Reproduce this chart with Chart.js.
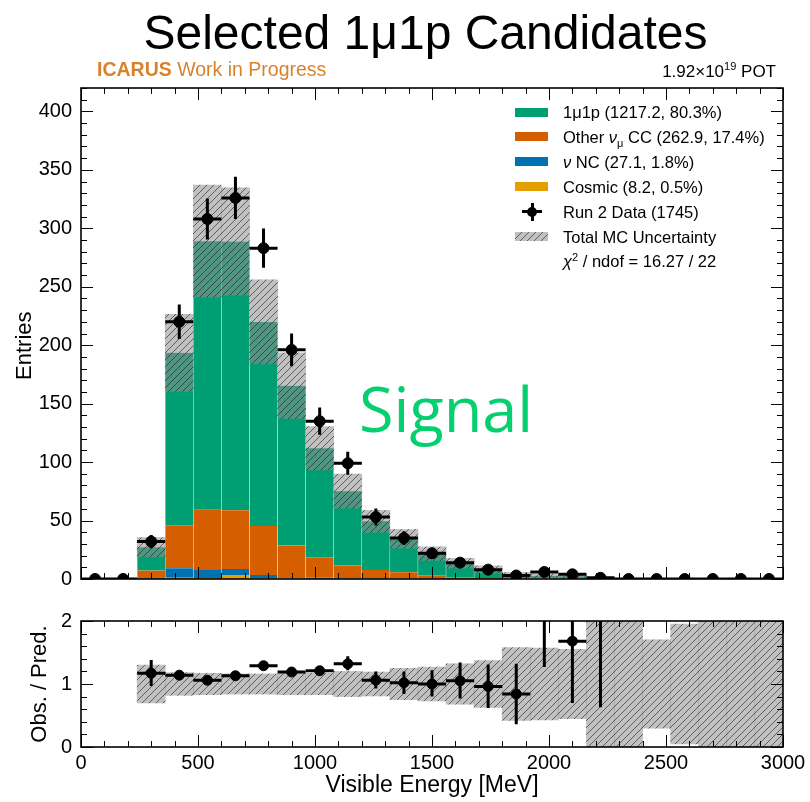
<!DOCTYPE html>
<html>
<head>
<meta charset="utf-8">
<script src="https://cdn.jsdelivr.net/npm/chart.js@4.4.0/dist/chart.umd.min.js"></script>
<style>
  body { margin: 0; background: #fff; width: 810px; height: 802px; position: relative; overflow: hidden;
         font-family: "Liberation Sans", Arial, sans-serif; color: #000; }
  .abs { position: absolute; white-space: nowrap; line-height: 1; }
  #mainChart { position: absolute; left: 0; top: 0; }
  #ratioChart { position: absolute; left: 0; top: 600px; }
  .sw { position: absolute; width: 33px; height: 9px; }
  .lt { position: absolute; left: 563px; font-size: 16.5px; line-height: 20px; white-space: nowrap; }
  sub, sup { line-height: 0; }
</style>
</head>
<body>
<canvas id="mainChart" width="810" height="600"></canvas>
<canvas id="ratioChart" width="810" height="202"></canvas>

<div class="abs" style="left:0;width:851px;text-align:center;top:9px;font-size:48px;">Selected 1μ1p Candidates</div>
<div class="abs" style="left:97px;top:60px;font-size:19.5px;color:#d9822b;"><b>ICARUS</b> Work in Progress</div>
<div class="abs" style="right:34px;top:63px;font-size:17px;">1.92×10<sup style="font-size:11px">19</sup> POT</div>
<div class="abs" style="left:359px;top:376px;font-size:63px;font-family:'Open Sans',sans-serif;color:#05cf6e;">Signal</div>
<div id="legend"></div>

<script>
// bin centres (MeV), bins are 120 MeV wide from 0 to 3000
var binCenters = [60, 180, 300, 420, 540, 660, 780, 900, 1020, 1140, 1260, 1380, 1500,
                  1620, 1740, 1860, 1980, 2100, 2220, 2340, 2460, 2580, 2700, 2820, 2940];
var binHalf = 60;

// stacked MC predictions
var sig1mu1p = [0, 0, 20.0, 147.6, 229.7, 229.9, 174.6, 136.7, 93.2, 63.6, 41.6, 28.7, 18.4,
                11.9, 7.2, 3.2, 2.4, 2.1, 0.5, 0.3, 0.3, 0.2, 0.2, 0.1, 0.1];
var otherNumuCC = [0, 0, 5.8, 36.7, 51.6, 50.2, 41.9, 27.3, 17.6, 10.9, 7.3, 5.3, 3.0,
                   1.5, 0.8, 0.4, 0.3, 0.2, 0.1, 0, 0, 0, 0, 0, 0];
var nuNC = [0, 0, 1.1, 8.2, 6.9, 5.7, 2.9, 1.0, 0.7, 0.4, 0.3, 0.2, 0.2,
            0.1, 0.1, 0, 0.1, 0.1, 0, 0, 0, 0, 0, 0, 0];
var cosmic = [0, 0, 0.3, 1.0, 0.8, 2.9, 0.5, 0.4, 0.3, 0.2, 0.1, 0.2, 0.1,
              0, 0, 0, 0, 0, 0, 0, 0, 0, 0, 0, 0];
// total MC uncertainty (half width)
var mcErr = [0, 0, 8.3, 33, 48, 46, 36, 28, 18.6, 14.6, 9.4, 8, 5.8,
             4.2, 3.2, 2.1, 1.6, 1.3, 0.8, 0.5, 0.2, 0.2, 0.3, 0.2, 0.2];

// Run 2 data
var dataCounts = [0, 0, 32, 220, 308, 326, 283, 196, 135, 99, 53, 35, 22,
                  14, 8, 3, 6, 4, 1, 0, 0, 0, 0, 0, 0];
var dataErr = [0, 0, 5.7, 14.8, 17.5, 18.1, 16.8, 14, 11.6, 9.9, 7.3, 5.9, 4.7,
               3.7, 2.8, 1.7, 2.4, 2.0, 1.0, 0, 0, 0, 0, 0, 0];

// ratio panel
var ratioVal = [null, null, 1.17, 1.14, 1.06, 1.13, 1.29, 1.19, 1.21, 1.32, 1.06, 1.02, 1.00,
                1.05, 0.96, 0.84, 2.14, 1.68, 3.5, null, null, null, null, null, null];
var ratioLo = [null, null, 0.97, 1.09, 1.02, 1.09, 1.24, 1.14, 1.15, 1.22, 0.93, 0.84, 0.80,
               0.77, 0.62, 0.36, 1.27, 0.70, 0.63, null, null, null, null, null, null];
var ratioHi = [null, null, 1.38, 1.19, 1.10, 1.17, 1.34, 1.25, 1.27, 1.44, 1.20, 1.20, 1.22,
               1.34, 1.31, 1.32, 3.0, 2.7, 5.5, null, null, null, null, null, null];
var ratioBand = [null, null, 0.30, 0.18, 0.17, 0.16, 0.16, 0.17, 0.17, 0.20, 0.19, 0.25, 0.27,
                 0.32, 0.37, 0.58, 0.57, 0.55, 1.2, 1.2, 0.70, 0.95, 1.2, 1.2, 1.2];

var legendItems = [
  { kind: 'box', color: '#009e73', html: '1μ1p (1217.2, 80.3%)' },
  { kind: 'box', color: '#d55e00', html: 'Other <i>ν</i><sub style="font-size:11px">μ</sub> CC (262.9, 17.4%)' },
  { kind: 'box', color: '#0072b2', html: '<i>ν</i> NC (27.1, 1.8%)' },
  { kind: 'box', color: '#e69f00', html: 'Cosmic (8.2, 0.5%)' },
  { kind: 'data', html: 'Run 2 Data (1745)' },
  { kind: 'hatch', html: 'Total MC Uncertainty' },
  { kind: 'none', html: '<i>χ</i><sup style="font-size:11px">2</sup> / ndof = 16.27 / 22' }
];

Chart.defaults.font.family = '"Liberation Sans", Arial, sans-serif';
Chart.defaults.color = '#000';

function makeHatch(bg, line, size) {
  var c = document.createElement('canvas');
  c.width = c.height = size;
  var g = c.getContext('2d');
  g.fillStyle = bg;
  g.fillRect(0, 0, size, size);
  g.strokeStyle = line;
  g.lineWidth = 1;
  g.beginPath();
  g.moveTo(0, size); g.lineTo(size, 0);
  g.moveTo(-1, 1); g.lineTo(1, -1);
  g.moveTo(size - 1, size + 1); g.lineTo(size + 1, size - 1);
  g.stroke();
  return c;
}

// ROOT style frame with inward ticks on all four sides
var rootFrame = {
  id: 'rootFrame',
  afterDraw: function(chart, args, o) {
    var ctx = chart.ctx, a = chart.chartArea;
    var xs = chart.scales.x, ys = chart.scales.y;
    ctx.save();
    ctx.strokeStyle = '#000';
    ctx.lineWidth = 1;
    ctx.beginPath();
    for (var v = xs.min; v <= xs.max + 1e-9; v += o.xMinor) {
      var px = Math.round(xs.getPixelForValue(v)) + 0.5;
      var len = Math.abs(v / o.xMajor - Math.round(v / o.xMajor)) < 1e-6 ? 12 : 6;
      ctx.moveTo(px, a.bottom); ctx.lineTo(px, a.bottom - len);
      ctx.moveTo(px, a.top); ctx.lineTo(px, a.top + len);
    }
    for (var w = ys.min; w <= ys.max + 1e-9; w += o.yMinor) {
      var py = Math.round(ys.getPixelForValue(w)) + 0.5;
      var l2 = Math.abs(w / o.yMajor - Math.round(w / o.yMajor)) < 1e-6 ? 12 : 6;
      ctx.moveTo(a.left, py); ctx.lineTo(a.left + l2, py);
      ctx.moveTo(a.right, py); ctx.lineTo(a.right - l2, py);
    }
    ctx.stroke();
    ctx.lineWidth = 1.6;
    ctx.strokeRect(a.left, a.top, a.right - a.left, a.bottom - a.top);
    ctx.restore();
  }
};

// data error bars (horizontal = bin width, vertical = stat error)
var errorBars = {
  id: 'errorBars',
  afterDatasetsDraw: function(chart) {
    var ctx = chart.ctx, a = chart.chartArea;
    chart.data.datasets.forEach(function(ds) {
      if (!ds.errLo) return;
      var xs = chart.scales.x, ys = chart.scales[ds.yAxisID || 'y'];
      ctx.save();
      ctx.beginPath();
      ctx.rect(a.left, a.top, a.right - a.left, a.bottom - a.top);
      ctx.clip();
      ctx.strokeStyle = '#000';
      ctx.lineWidth = 3;
      ds.data.forEach(function(p, i) {
        if (p.y === null) return;
        var x = xs.getPixelForValue(p.x), y = ys.getPixelForValue(p.y);
        ctx.beginPath();
        ctx.moveTo(xs.getPixelForValue(p.x - binHalf), y);
        ctx.lineTo(xs.getPixelForValue(p.x + binHalf), y);
        if (ds.errHi[i] > ds.errLo[i]) {
          ctx.moveTo(x, ys.getPixelForValue(ds.errLo[i]));
          ctx.lineTo(x, ys.getPixelForValue(ds.errHi[i]));
        }
        ctx.stroke();
      });
      ctx.restore();
    });
  }
};

var mainCtx = document.getElementById('mainChart').getContext('2d');
var hatchMain = mainCtx.createPattern(makeHatch('rgba(143,143,143,0.56)', 'rgba(30,30,30,0.6)', 7), 'repeat');

function pts(vals) {
  return binCenters.map(function(x, i) { return { x: x, y: vals[i] }; });
}

var mcTotal = binCenters.map(function(x, i) {
  return sig1mu1p[i] + otherNumuCC[i] + nuNC[i] + cosmic[i];
});

var barCommon = {
  type: 'bar', grouped: false, barPercentage: 1, categoryPercentage: 1,
  borderWidth: { left: 0.5, right: 0.5, top: 0, bottom: 0 },
  borderColor: 'rgba(255,255,255,0.45)'
};

function plainNum(v) { return String(v); }

new Chart(mainCtx, {
  type: 'bar',
  data: {
    datasets: [
      { type: 'scatter', label: 'Run 2 Data', data: pts(dataCounts), yAxisID: 'yb',
        pointRadius: 5.5, pointBackgroundColor: '#000', pointBorderColor: '#000', clip: 0,
        errLo: dataCounts.map(function(v, i) { return v - dataErr[i]; }),
        errHi: dataCounts.map(function(v, i) { return v + dataErr[i]; }) },
      Object.assign({}, barCommon, { label: 'Total MC Uncertainty', yAxisID: 'yb',
        data: binCenters.map(function(x, i) { return { x: x, y: [mcTotal[i] - mcErr[i], mcTotal[i] + mcErr[i]] }; }),
        backgroundColor: hatchMain, borderWidth: 0 }),
      Object.assign({}, barCommon, { label: 'Cosmic', data: pts(cosmic), backgroundColor: '#e69f00' }),
      Object.assign({}, barCommon, { label: 'nu NC', data: pts(nuNC), backgroundColor: '#0072b2' }),
      Object.assign({}, barCommon, { label: 'Other numu CC', data: pts(otherNumuCC), backgroundColor: '#d55e00' }),
      Object.assign({}, barCommon, { label: '1mu1p', data: pts(sig1mu1p), backgroundColor: '#009e73' })
    ]
  },
  options: {
    responsive: false,
    animation: false,
    layout: { padding: { left: 0, right: 27, top: 88, bottom: 7 } },
    plugins: {
      legend: { display: false },
      tooltip: { enabled: false },
      rootFrame: { xMinor: 100, xMajor: 500, yMinor: 10, yMajor: 50 }
    },
    scales: {
      x: { type: 'linear', min: 0, max: 3000, offset: false, display: false },
      y: {
        stacked: true, min: 0, max: 420,
        afterFit: function(s) { s.width = 81; },
        grid: { display: false, drawTicks: false },
        border: { display: false },
        ticks: { stepSize: 50, includeBounds: false, padding: 9, font: { size: 20 }, callback: plainNum },
        // trailing spaces nudge the centred title a little lower, as in the original
        title: { display: true, text: 'Entries    ', font: { size: 22 }, padding: { top: 12, bottom: 0 } }
      },
      yb: { display: false, min: 0, max: 420 }
    }
  },
  plugins: [rootFrame, errorBars]
});

var ratioCtx = document.getElementById('ratioChart').getContext('2d');
var hatchRatio = ratioCtx.createPattern(makeHatch('rgba(143,143,143,0.56)', 'rgba(30,30,30,0.6)', 7), 'repeat');

new Chart(ratioCtx, {
  type: 'bar',
  data: {
    datasets: [
      { type: 'scatter', label: 'Obs/Pred', data: pts(ratioVal),
        pointRadius: 5, pointBackgroundColor: '#000', pointBorderColor: '#000', clip: 0,
        errLo: ratioLo, errHi: ratioHi },
      Object.assign({}, barCommon, { label: 'MC uncertainty',
        data: binCenters.map(function(x, i) {
          return { x: x, y: ratioBand[i] === null ? null : [1 - ratioBand[i], 1 + ratioBand[i]] };
        }),
        backgroundColor: hatchRatio, borderWidth: 0 })
    ]
  },
  options: {
    responsive: false,
    animation: false,
    layout: { padding: { left: 0, right: 27, top: 21, bottom: 0 } },
    plugins: {
      legend: { display: false },
      tooltip: { enabled: false },
      rootFrame: { xMinor: 100, xMajor: 500, yMinor: 0.2, yMajor: 1 }
    },
    scales: {
      x: {
        type: 'linear', min: 0, max: 3000, offset: false,
        afterFit: function(s) { s.height = 55; },
        grid: { display: false, drawTicks: false, offset: false },
        border: { display: false },
        ticks: { stepSize: 500, padding: 4, maxRotation: 0, font: { size: 20 }, callback: plainNum },
        title: { display: true, text: 'Visible Energy [MeV]', font: { size: 23 }, padding: { top: 0, bottom: 3 } }
      },
      y: {
        min: 0, max: 2,
        afterFit: function(s) { s.width = 81; },
        grid: { display: false, drawTicks: false },
        border: { display: false },
        ticks: { stepSize: 1, padding: 9, font: { size: 20 }, callback: plainNum },
        title: { display: true, text: 'Obs. / Pred.', font: { size: 22 }, padding: { top: 27, bottom: 0 } }
      }
    }
  },
  plugins: [rootFrame, errorBars]
});

// legend (drawn as page elements over the chart)
var leg = document.getElementById('legend');
var hatchCanvas = makeHatch('rgba(143,143,143,0.56)', 'rgba(30,30,30,0.6)', 7);
legendItems.forEach(function(it, i) {
  var cy = 112 + i * 24.9;
  if (it.kind === 'box' || it.kind === 'hatch') {
    var sw = document.createElement('div');
    sw.className = 'sw';
    sw.style.left = '515px';
    sw.style.top = (cy - 4.5) + 'px';
    if (it.kind === 'box') sw.style.background = it.color;
    else sw.style.background = 'url(' + hatchCanvas.toDataURL() + ')';
    leg.appendChild(sw);
  } else if (it.kind === 'data') {
    var h = document.createElement('div');
    h.style.cssText = 'position:absolute;left:522px;width:20px;height:3px;background:#000;top:' + (cy - 1.5) + 'px';
    var v = document.createElement('div');
    v.style.cssText = 'position:absolute;left:530.5px;width:3px;height:18px;background:#000;top:' + (cy - 9) + 'px';
    var d = document.createElement('div');
    d.style.cssText = 'position:absolute;left:527px;width:10px;height:10px;border-radius:50%;background:#000;top:' + (cy - 5) + 'px';
    leg.appendChild(h); leg.appendChild(v); leg.appendChild(d);
  }
  var t = document.createElement('div');
  t.className = 'lt';
  t.style.top = (cy - 10) + 'px';
  t.innerHTML = it.html;
  leg.appendChild(t);
});
</script>
</body>
</html>
